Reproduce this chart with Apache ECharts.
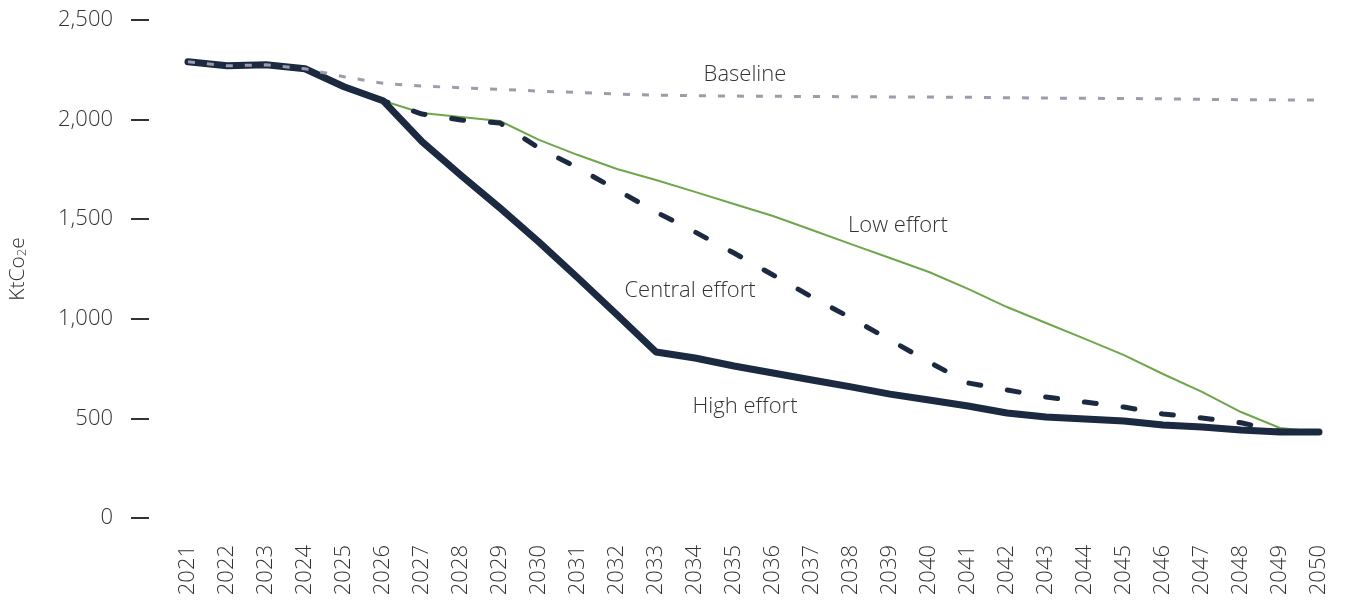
<!DOCTYPE html>
<html>
<head>
<meta charset="utf-8">
<script src="https://cdn.jsdelivr.net/npm/echarts@6/dist/echarts.min.js"></script>
<style>
html,body{margin:0;padding:0;background:#fff;}
#chart{width:1346px;height:603px;}
</style>
</head>
<body>
<div id="chart"></div>
<script>
const years = ['2021','2022','2023','2024','2025','2026','2027','2028','2029','2030','2031','2032','2033','2034','2035','2036','2037','2038','2039','2040','2041','2042','2043','2044','2045','2046','2047','2048','2049','2050'];
const baseline = [2290,2270,2275,2255,2215,2182,2168,2160,2152,2143,2136,2128,2123,2120,2118,2117,2116,2115,2114,2113,2112,2110,2108,2107,2106,2104,2102,2100,2099,2098];
const lowEffort = [2290,2270,2275,2255,2165,2095,2033,2013,1993,1898,1822,1752,1697,1637,1576,1516,1446,1375,1305,1235,1150,1059,979,899,818,723,633,532,452,432];
const centralEffort = [2290,2270,2275,2255,2165,2095,2028,1998,1983,1857,1757,1647,1536,1436,1330,1220,1109,1004,894,783,678,643,607,582,557,522,502,478,435,432];
const highEffort = [2290,2270,2275,2255,2165,2095,1889,1720,1556,1385,1205,1020,833,803,763,728,693,658,622,592,562,527,507,497,487,467,457,442,432,432];
const yTicks = [0,500,1000,1500,2000,2500];

const font = '"Open Sans", Lato, sans-serif';
const txt = '#333';
const navy = '#1b2a40';
const chart = echarts.init(document.getElementById('chart'));
chart.setOption({
  animation:false,
  backgroundColor:'#fff',
  grid:{left:177,right:27,top:20,bottom:85},
  xAxis:{
    type:'category',
    data:years,
    boundaryGap:false,
    axisLine:{show:false},
    axisTick:{show:false},
    axisLabel:{rotate:90,margin:27,color:txt,fontSize:22,fontWeight:300,fontFamily:font,interval:0}
  },
  yAxis:{
    type:'value',
    min:yTicks[0],
    max:yTicks[yTicks.length-1],
    interval:500,
    offset:39,
    name:'KtCo{sub|2}e',
    nameLocation:'middle',
    nameGap:120,
    nameRotate:90,
    nameTextStyle:{color:txt,fontSize:21,fontWeight:300,fontFamily:font,
      rich:{sub:{fontSize:13,fontWeight:300,fontFamily:font,color:txt,verticalAlign:'bottom',padding:[8,0,0,0]}}},
    axisLine:{show:false},
    axisTick:{show:true,length:18,lineStyle:{color:txt,width:2}},
    splitLine:{show:false},
    axisLabel:{margin:36,color:txt,fontSize:22,fontWeight:300,fontFamily:font,
      formatter:v=>v.toLocaleString('en-US')}
  },
  series:[
    {name:'Low effort',type:'line',data:lowEffort,symbol:'none',z:1,
      lineStyle:{color:'#6ea64c',width:2}},
    {name:'High effort',type:'line',data:highEffort,symbol:'none',z:2,
      lineStyle:{color:navy,width:7,cap:'round',join:'round'}},
    {name:'Central effort',type:'line',data:centralEffort,symbol:'none',z:3,
      lineStyle:{color:navy,width:5,type:[12,27],cap:'round',join:'round'}},
    {name:'Baseline',type:'line',data:baseline,symbol:'none',z:4,
      lineStyle:{color:'#9d9cad',width:3,type:[7,12]}}
  ],
  graphic:[
    {type:'text',x:745,y:75,style:{text:'Baseline',fill:txt,font:'300 22px '+font,align:'center',verticalAlign:'middle'}},
    {type:'text',x:898,y:226,style:{text:'Low effort',fill:txt,font:'300 22px '+font,align:'center',verticalAlign:'middle'}},
    {type:'text',x:690,y:291,style:{text:'Central effort',fill:txt,font:'300 22px '+font,align:'center',verticalAlign:'middle'}},
    {type:'text',x:745,y:407,style:{text:'High effort',fill:txt,font:'300 22px '+font,align:'center',verticalAlign:'middle'}}
  ]
});
</script>
</body>
</html>
